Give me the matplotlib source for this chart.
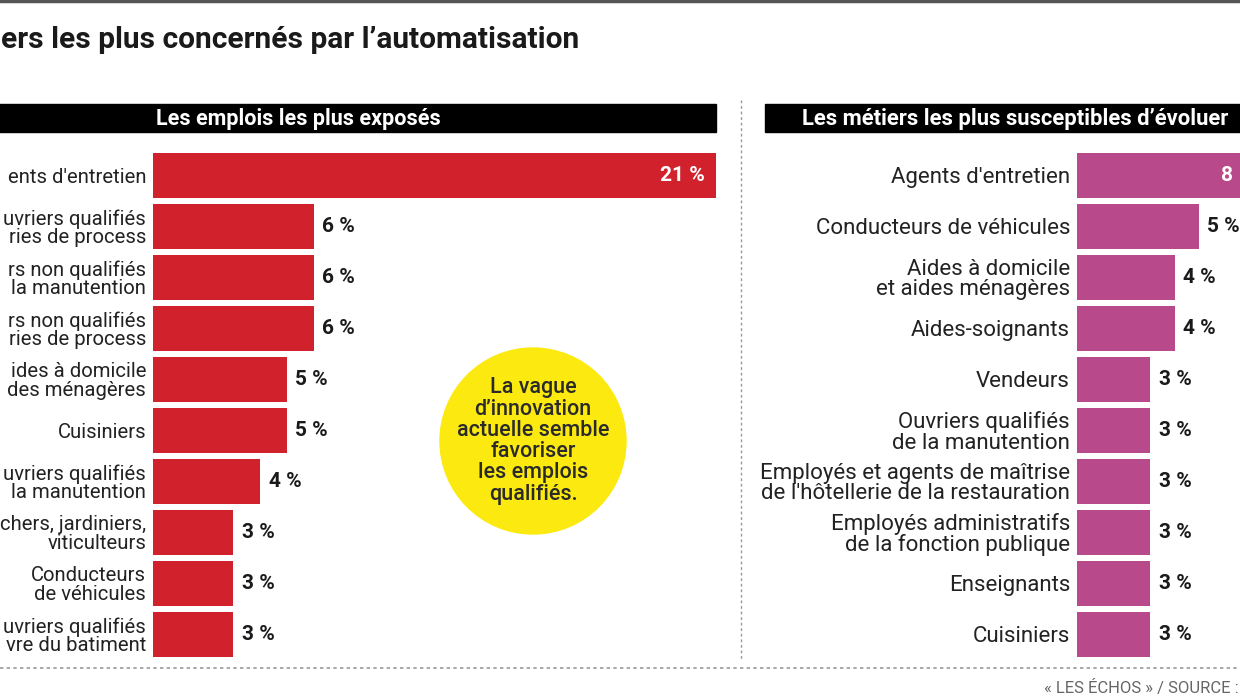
import matplotlib.pyplot as plt
from matplotlib.patches import Rectangle, Circle
from matplotlib.lines import Line2D

# data (the reference is a crop: left labels are cut)
left_labels = [
    "ents d'entretien",
    "uvriers qualifiés\nries de process",
    "rs non qualifiés\nla manutention",
    "rs non qualifiés\nries de process",
    "ides à domicile\ndes ménagères",
    "Cuisiniers",
    "uvriers qualifiés\nla manutention",
    "chers, jardiniers,\nviticulteurs",
    "Conducteurs\nde véhicules",
    "uvriers qualifiés\nvre du batiment",
]
left_values = [21, 6, 6, 6, 5, 5, 4, 3, 3, 3]

right_labels = [
    "Agents d'entretien",
    "Conducteurs de véhicules",
    "Aides à domicile\net aides ménagères",
    "Aides-soignants",
    "Vendeurs",
    "Ouvriers qualifiés\nde la manutention",
    "Employés et agents de maîtrise\nde l'hôtellerie de la restauration",
    "Employés administratifs\nde la fonction publique",
    "Enseignants",
    "Cuisiniers",
]
right_values = [8, 5, 4, 4, 3, 3, 3, 3, 3, 3]

title = "ers les plus concernés par l’automatisation"
left_header = "Les emplois les plus exposés"
right_header = "Les métiers les plus susceptibles d’évoluer"
bubble_text = "La vague\nd’innovation\nactuelle semble\nfavoriser\nles emplois\nqualifiés."
source = "« LES ÉCHOS » / SOURCE :"

RED = '#d0212d'
PINK = '#b8498a'
W, H = 1240, 697

plt.rcParams['font.family'] = ['Roboto', 'DejaVu Sans']


def fx(px):
    return px / W


def fy(py):
    return 1 - py / H


fig = plt.figure(figsize=(12.4, 6.97), dpi=100)
fig.patch.set_facecolor('white')

# top rule and title
fig.add_artist(Line2D([0, 1], [fy(1), fy(1)], color='#555555', lw=2.5,
                      transform=fig.transFigure))
fig.text(fx(1), fy(40), title, ha='left', va='center', fontsize=21.5,
         fontweight='bold', color='#1a1a1a')

# header bands
fig.add_artist(Rectangle((fx(-300), fy(132)), fx(716 + 300), 28 / H,
                         color='black', transform=fig.transFigure))
fig.add_artist(Rectangle((fx(765), fy(132)), fx(800), 28 / H,
                         color='black', transform=fig.transFigure))
fig.text(fx(298), fy(119), left_header, ha='center', va='center',
         color='white', fontsize=15.5, fontweight='bold')
fig.text(fx(802), fy(119), right_header, ha='left', va='center',
         color='white', fontsize=15.8, fontweight='bold')

# dotted separators
fig.add_artist(Line2D([fx(741), fx(741)], [fy(100), fy(660)], color='#999999',
                      lw=1, ls=(0, (2, 2)), transform=fig.transFigure))
fig.add_artist(Line2D([0, 1], [fy(668), fy(668)], color='#999999',
                      lw=1.2, ls=(0, (2, 2)), transform=fig.transFigure))
fig.text(fx(1239), fy(688), source, ha='right', va='center', fontsize=12,
         color='#666666')


def panel(x0, px_per_unit, xmax, labels, values, color, label_size, top_fmt="{} %"):
    width = px_per_unit * xmax
    ax = fig.add_axes([fx(x0), fy(660), width / W, (660 - 150) / H])
    pos = list(range(len(values)))
    ax.barh(pos, values, height=0.87, color=color)
    ax.set_xlim(0, xmax)
    ax.set_ylim(len(values) - 0.5, -0.5)
    ax.set_yticks(pos)
    ax.set_yticklabels(labels, fontsize=label_size, color='#222222', linespacing=0.95)
    ax.tick_params(axis='y', length=0, pad=5)
    ax.set_xticks([])
    for s in ax.spines.values():
        s.set_visible(False)
    top = max(values)
    for i, v in enumerate(values):
        if v == top:
            ax.annotate(top_fmt.format(v), (v, i), xytext=(-8, 0),
                        textcoords='offset points', ha='right', va='center',
                        color='white', fontsize=15, fontweight='bold')
        else:
            ax.annotate(f"{v} %", (v, i), xytext=(6, 0), textcoords='offset points',
                        ha='left', va='center', color='#1a1a1a', fontsize=15,
                        fontweight='bold')
    return ax


panel(153, 26.8, 21, left_labels, left_values, RED, 14.6)
# the right panel runs past the crop; only the "8" of its top label is visible
right_ax = panel(1077, 24.4, 8, right_labels, right_values, PINK, 16, top_fmt="{}")
right_ax.texts[0].set_position((8, 0))
right_ax.texts[0].xyann = (-28, 0)

# yellow bubble, drawn in inches so it stays round
fig.add_artist(Circle((5.33, (H - 441) / 100), 0.93, color='#fbe90f',
                      transform=fig.dpi_scale_trans))
fig.text(fx(533), fy(441), bubble_text, ha='center', va='center',
         fontsize=15.5, color='#2a2a2a', linespacing=1.02, fontweight='medium')

fig.savefig('out.png', dpi=100)
